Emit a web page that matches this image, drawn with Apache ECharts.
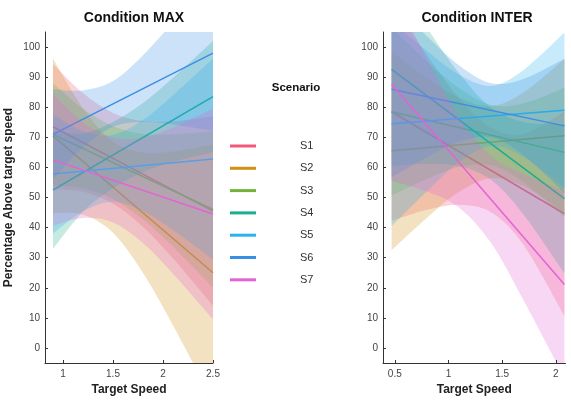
<!DOCTYPE html>
<html>
<head>
<meta charset="utf-8">
<script src="https://cdn.jsdelivr.net/npm/echarts@6/dist/echarts.min.js"></script>
<style>
html,body{margin:0;padding:0;background:#fff;}
#chart{width:571px;height:401px;}
</style>
</head>
<body>
<div id="chart"></div>
<script>
// ---------- data ----------
const scenarios = ['S1', 'S2', 'S3', 'S4', 'S5', 'S6', 'S7'];
const yTicks = [0, 10, 20, 30, 40, 50, 60, 70, 80, 90, 100];
const xTicksMax = [1, 1.5, 2, 2.5];
const xTicksInter = [0.5, 1, 1.5, 2];

// Condition MAX: fitted lines (value at first and last x)
const maxLineX = [0.9, 2.5];
const maxLineStart = [73.5, 70.5, 71, 52.5, 57.8, 71, 62.5];
const maxLineEnd = [45.5, 25, 46, 83.5, 62.8, 98, 44.5];
// Condition MAX: confidence bands
const maxBandX = [0.9, 1.2, 1.5, 1.8, 2.1, 2.5];
const maxUpperS1 = [94.4, 84.7, 78.1, 75.4, 75.3, 77];
const maxLowerS1 = [52.6, 51.9, 47.9, 40.2, 29.7, 14];
const maxUpperS2 = [96.2, 79.7, 68.5, 64.9, 65.3, 67.6];
const maxLowerS2 = [44.8, 44.3, 38.3, 24.9, 7.5, -17.6];
const maxUpperS3 = [88, 79.5, 73.7, 71.1, 71, 72];
const maxLowerS3 = [54, 53.1, 49.5, 42.7, 33.6, 20];
const maxUpperS4 = [72, 71.3, 75.1, 81.4, 89.8, 102];
const maxLowerS4 = [33, 45.3, 53.1, 58.4, 61.8, 65];
const maxUpperS5 = [77.6, 72, 70.8, 75.8, 84, 96.2];
const maxLowerS5 = [38, 45.4, 48.6, 45.4, 39.2, 29.4];
const maxUpperS6 = [86, 85.6, 88.7, 97.3, 108.3, 123.8];
const maxLowerS6 = [56, 66.6, 73.5, 75.1, 74.3, 72.2];
const maxUpperS7 = [84.4, 75, 69.9, 70, 73.3, 79.5];
const maxLowerS7 = [40.6, 43.2, 41.7, 34.8, 24.7, 9.5];

// Condition INTER: fitted lines
const interLineX = [0.47, 2.08];
const interLineStart = [78.5, 65.5, 78.5, 92.6, 74.5, 86, 87.6];
const interLineEnd = [44.6, 70.5, 65, 49.6, 79, 73.8, 21.1];
// Condition INTER: confidence bands
const interBandX = [0.47, 0.8, 1.1, 1.4, 1.7, 2.08];
const interUpperS1 = [114.8, 97.3, 83, 73, 71.2, 78.6];
const interLowerS1 = [42.2, 45.9, 47.6, 45, 34.2, 10.6];
const interUpperS2 = [98.5, 89.7, 83.1, 80.4, 84.9, 96];
const interLowerS2 = [32.5, 43.3, 51.9, 56.4, 53.7, 45];
const interUpperS3 = [106.4, 95.2, 86.3, 80.7, 81.3, 86.5];
const interLowerS3 = [50.6, 56.2, 60.1, 60.7, 55.1, 43.5];
const interUpperS4 = [124.7, 106.4, 91.2, 79.8, 75.1, 74.4];
const interLowerS4 = [60.5, 61.2, 60.4, 55.8, 44.3, 24.8];
const interUpperS5 = [108.5, 98.7, 90.8, 87.1, 92.4, 104.8];
const interLowerS5 = [40.5, 52.1, 61.8, 67.1, 63.4, 53.2];
const interUpperS6 = [115.3, 103.6, 93.9, 88, 89.4, 96.1];
const interLowerS6 = [56.7, 63.4, 68.5, 70, 64, 51.5];
const interUpperS7 = [119.6, 96, 76.6, 63.7, 57.8, 52.1];
const interLowerS7 = [55.6, 52, 46.6, 34.7, 15.8, -9.9];

// ---------- styles ----------
const colors = ['#f25a78', '#d18f14', '#74b43a', '#1aae8e', '#27b3ec', '#3b8fe3', '#e363d5'];
const FONT = '"Liberation Sans", Arial, Helvetica, sans-serif';
const bandOpacity = 0.26;

const maxUppers = [maxUpperS1, maxUpperS2, maxUpperS3, maxUpperS4, maxUpperS5, maxUpperS6, maxUpperS7];
const maxLowers = [maxLowerS1, maxLowerS2, maxLowerS3, maxLowerS4, maxLowerS5, maxLowerS6, maxLowerS7];
const interUppers = [interUpperS1, interUpperS2, interUpperS3, interUpperS4, interUpperS5, interUpperS6, interUpperS7];
const interLowers = [interLowerS1, interLowerS2, interLowerS3, interLowerS4, interLowerS5, interLowerS6, interLowerS7];

const panels = [
  {bandX: maxBandX, uppers: maxUppers, lowers: maxLowers, lineX: maxLineX, starts: maxLineStart, ends: maxLineEnd},
  {bandX: interBandX, uppers: interUppers, lowers: interLowers, lineX: interLineX, starts: interLineStart, ends: interLineEnd}
];

// smooth (Catmull-Rom -> Bezier) path through pixel points
function curveSegs(pts) {
  let d = '';
  for (let i = 0; i < pts.length - 1; i++) {
    const p0 = pts[Math.max(i - 1, 0)], p1 = pts[i], p2 = pts[i + 1], p3 = pts[Math.min(i + 2, pts.length - 1)];
    const c1 = [p1[0] + (p2[0] - p0[0]) / 6, p1[1] + (p2[1] - p0[1]) / 6];
    const c2 = [p2[0] - (p3[0] - p1[0]) / 6, p2[1] - (p3[1] - p1[1]) / 6];
    d += ' C' + c1[0] + ' ' + c1[1] + ' ' + c2[0] + ' ' + c2[1] + ' ' + p2[0] + ' ' + p2[1];
  }
  return d;
}

function bandRenderer(color) {
  return function (params, api) {
    if (params.dataIndexInside !== 0) return null;
    const n = params.dataInsideLength;
    const up = [], lo = [];
    for (let k = 0; k < n; k++) {
      up.push(api.coord([api.value(0, k), api.value(2, k)]));
      lo.push(api.coord([api.value(0, k), api.value(1, k)]));
    }
    lo.reverse();
    const d = 'M' + up[0][0] + ' ' + up[0][1] + curveSegs(up) +
      ' L' + lo[0][0] + ' ' + lo[0][1] + curveSegs(lo) + ' Z';
    const cs = params.coordSys;
    return {
      type: 'path',
      shape: {pathData: d},
      style: {fill: color, opacity: bandOpacity, stroke: null},
      clipPath: {type: 'rect', shape: {x: cs.x, y: cs.y, width: cs.width, height: cs.height}},
      silent: true
    };
  };
}

// draw order: band S1, line S1, band S2, line S2, ... (later bands veil earlier lines)
const series = [];
panels.forEach((p, pi) => {
  scenarios.forEach((name, i) => {
    series.push({
      name: name + ' band ' + pi, type: 'custom', xAxisIndex: pi, yAxisIndex: pi,
      silent: true, clip: true, z: 2 + i * 2,
      renderItem: bandRenderer(colors[i]),
      encode: {x: 0, y: [1, 2]},
      data: p.bandX.map((x, j) => [x, p.lowers[i][j], p.uppers[i][j]])
    });
    series.push({
      name: name, type: 'line', xAxisIndex: pi, yAxisIndex: pi,
      symbol: 'none', silent: true, color: colors[i], z: 3 + i * 2,
      lineStyle: {color: colors[i], width: 1.5},
      itemStyle: {color: colors[i]},
      data: [[p.lineX[0], p.starts[i]], [p.lineX[1], p.ends[i]]]
    });
  });
});

function xAxisDef(gi, min, max, ticks) {
  return {
    type: 'value', gridIndex: gi, min: min, max: max, z: 30,
    name: 'Target Speed', nameLocation: 'middle', nameGap: 21,
    nameTextStyle: {fontFamily: FONT, fontSize: 12, fontWeight: 'bold', color: '#222'},
    axisLine: {show: true, onZero: false, lineStyle: {color: '#333', width: 1}},
    axisTick: {show: true, inside: true, length: 3, customValues: ticks, lineStyle: {color: '#333'}},
    axisLabel: {customValues: ticks, fontFamily: FONT, fontSize: 10, color: '#444', margin: 6},
    splitLine: {show: false}
  };
}
function yAxisDef(gi, withName) {
  return {
    type: 'value', gridIndex: gi, min: -5, max: 105, z: 30,
    name: withName ? 'Percentage Above target speed' : '', nameLocation: 'middle', nameGap: 30,
    nameTextStyle: {fontFamily: FONT, fontSize: 12, fontWeight: 'bold', color: '#222'},
    axisLine: {show: true, onZero: false, lineStyle: {color: '#333', width: 1}},
    axisTick: {show: true, inside: true, length: 3, customValues: yTicks, lineStyle: {color: '#333'}},
    axisLabel: {customValues: yTicks, fontFamily: FONT, fontSize: 10, color: '#444', margin: 5},
    splitLine: {show: false}
  };
}

const option = {
  backgroundColor: '#fff',
  animation: false,
  title: [
    {text: 'Condition MAX', left: 129, top: 6, textAlign: 'center',
     textStyle: {fontFamily: FONT, fontSize: 14, fontWeight: 'bold', color: '#111'}},
    {text: 'Condition INTER', left: 472, top: 6, textAlign: 'center',
     textStyle: {fontFamily: FONT, fontSize: 14, fontWeight: 'bold', color: '#111'}},
    {text: 'Scenario', left: 291, top: 77, textAlign: 'center',
     textStyle: {fontFamily: FONT, fontSize: 11.5, fontWeight: 'bold', color: '#111'}}
  ],
  legend: {
    data: scenarios, orient: 'vertical', left: 225, top: 134,
    icon: 'rect', itemWidth: 26, itemHeight: 3, itemGap: 8.3,
    selectedMode: false,
    textStyle: {fontFamily: FONT, fontSize: 11, color: '#333', lineHeight: 14, padding: [0, 0, 0, 39]}
  },
  grid: [
    {left: 45, top: 32, width: 168, height: 332},
    {left: 383, top: 32, width: 182.5, height: 332}
  ],
  xAxis: [xAxisDef(0, 0.82, 2.5, xTicksMax), xAxisDef(1, 0.39, 2.09, xTicksInter)],
  yAxis: [yAxisDef(0, true), yAxisDef(1, false)],
  series: series
};

const chart = echarts.init(document.getElementById('chart'), null, {renderer: 'canvas'});
chart.setOption(option);
</script>
</body>
</html>
